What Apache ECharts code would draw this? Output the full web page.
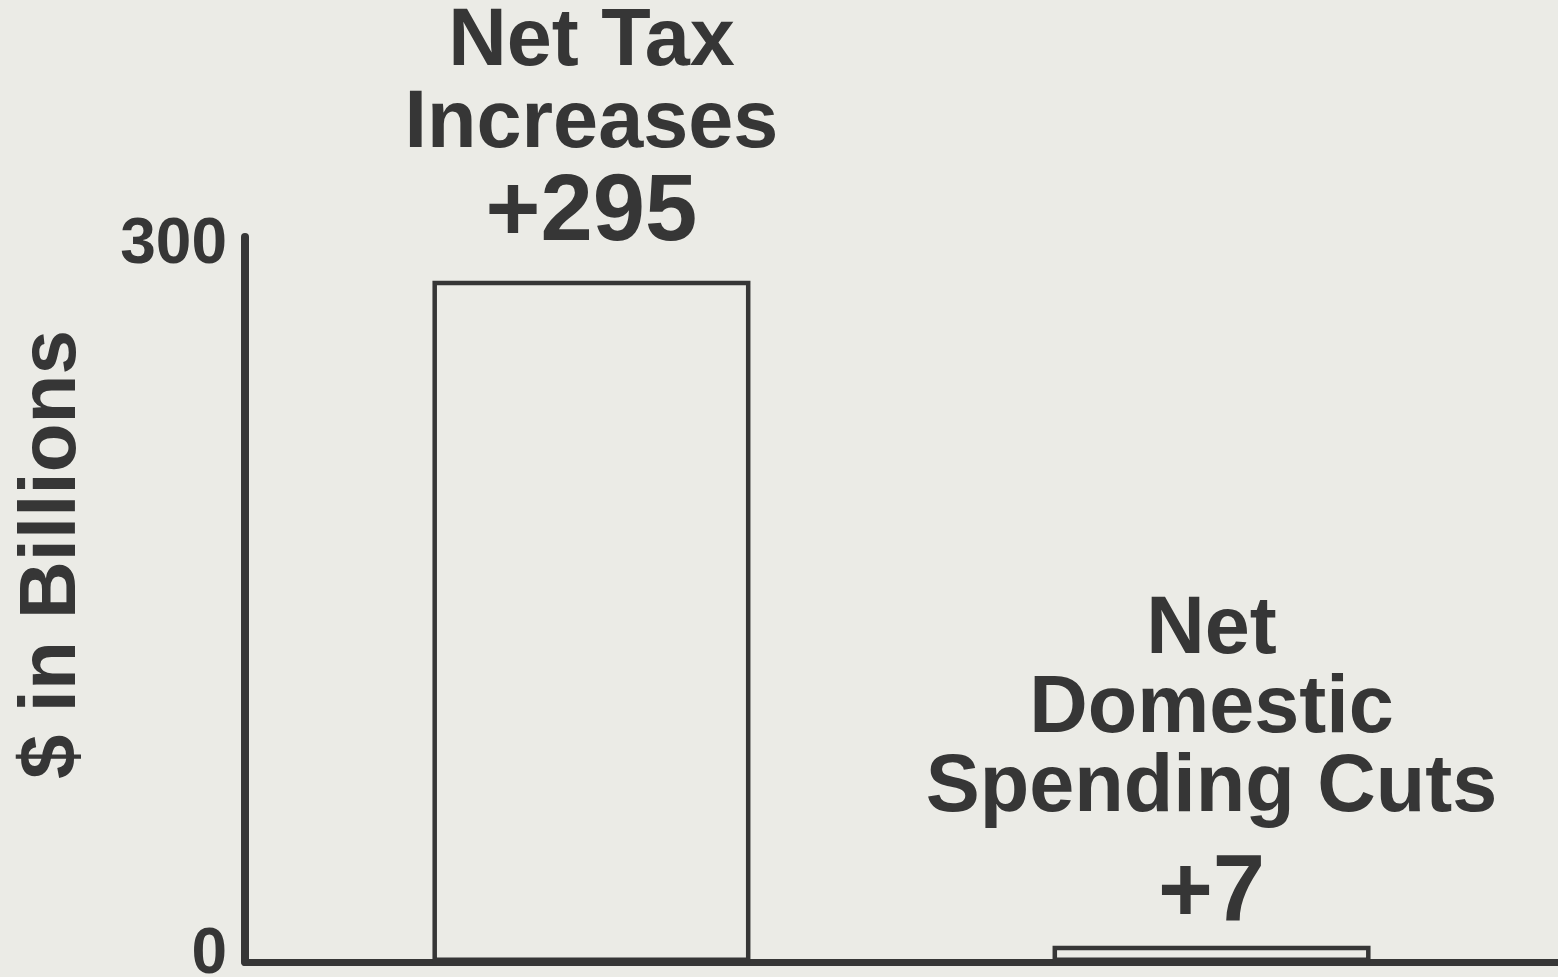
<!DOCTYPE html>
<html>
<head>
<meta charset="utf-8">
<script src="https://cdn.jsdelivr.net/npm/echarts@6/dist/echarts.min.js"></script>
<style>
  html, body { margin: 0; padding: 0; background: #ebebe6; }
  #chart { width: 1558px; height: 977px; }
</style>
</head>
<body>
<div id="chart"></div>
<script>
// Budget package components, $ billions
const categories = ['Net Tax\nIncreases', 'Net\nDomestic\nSpending Cuts'];
const values = [295, 7];
const yTicks = [0, 300];
const yAxisTitle = '$ in Billions';

const INK = '#363636';
const PAPER = '#ebebe6';
const FONT = '"Liberation Sans", Arial, Helvetica, sans-serif';
// label spacing per bar: gap above the bar, height of the value line, height of a name line
const labelGap = [19, -16];
const valueLine = [96, 134];
const nameLine = [82, 79];

const chart = echarts.init(document.getElementById('chart'), null, { renderer: 'canvas' });

const series = categories.map((name, i) => ({
  type: 'bar',
  name: name,
  data: [values[i]],
  barWidth: 318,
  barGap: '95%',
  itemStyle: { color: PAPER, borderColor: INK, borderWidth: 4.5 },
  label: {
    show: true,
    position: 'top',
    distance: labelGap[i],
    formatter: () => name.split('\n').map(l => `{n|${l}}`).join('\n') + `\n{v|+${values[i]}}`,
    rich: {
      n: { fontFamily: FONT, fontWeight: 'bold', fontSize: 81, lineHeight: nameLine[i], color: INK, align: 'center' },
      v: { fontFamily: FONT, fontWeight: 'bold', fontSize: 94, lineHeight: valueLine[i], color: INK, align: 'center' }
    }
  }
}));

chart.setOption({
  backgroundColor: PAPER,
  animation: false,
  grid: { left: 245, right: 0, top: 237, bottom: 15, outerBoundsMode: 'none' },
  xAxis: {
    type: 'category',
    data: [''],
    axisLine: { lineStyle: { color: INK, width: 7 } },
    axisTick: { show: false },
    axisLabel: { show: false },
    splitLine: { show: false }
  },
  yAxis: {
    type: 'value',
    min: 0,
    max: 314,
    name: yAxisTitle,
    nameLocation: 'middle',
    nameGap: 152,
    nameTextStyle: { fontFamily: FONT, fontWeight: 'bold', fontSize: 80, color: INK, padding: [0, 0, 0, 90] },
    axisLine: { show: true, lineStyle: { color: INK, width: 8 } },
    axisTick: { show: false },
    splitLine: { show: false },
    axisLabel: {
      customValues: yTicks,
      margin: 18,
      formatter: v => v === Math.max(...yTicks) ? `{up|${v}}` : `{base|${v}}`,
      rich: {
        up: { fontFamily: FONT, fontWeight: 'bold', fontSize: 64, color: INK, padding: [0, 0, 48, 0] },
        base: { fontFamily: FONT, fontWeight: 'bold', fontSize: 64, color: INK, padding: [0, 0, 14, 0] }
      }
    }
  },
  series: series
});
</script>
</body>
</html>
